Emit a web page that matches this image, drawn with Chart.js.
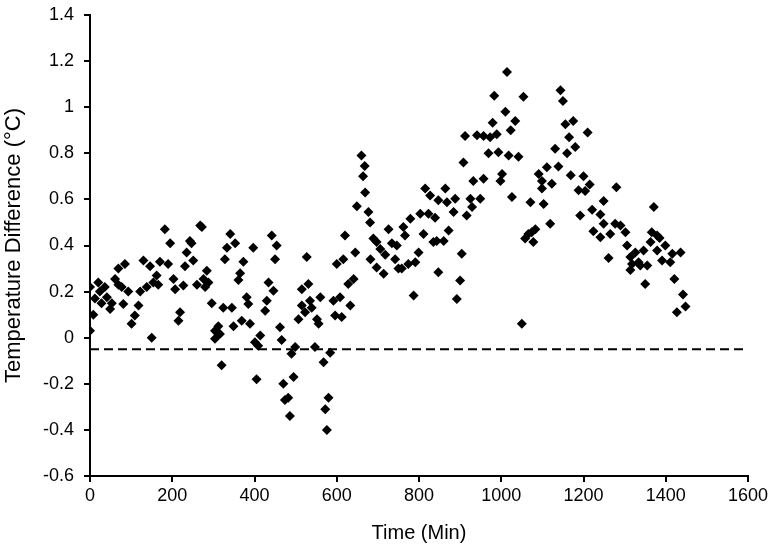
<!DOCTYPE html>
<html>
<head>
<meta charset="utf-8">
<script src="https://cdn.jsdelivr.net/npm/chart.js@4/dist/chart.umd.min.js"></script>
<style>
  html, body { margin: 0; padding: 0; background: #fff; }
  #wrap { width: 777px; height: 549px; }
</style>
</head>
<body>
<div id="wrap"><canvas id="myChart" width="777" height="549"></canvas></div>
<script>
// time in minutes and temperature difference (°C)
let timeMin = [0, 0, 8, 12, 20, 24, 28, 36, 41, 49, 53, 61, 69, 69, 77, 81, 85, 93, 101, 109,
  118, 122, 130, 138, 146, 150, 154, 162, 166, 170, 182, 190, 195, 203, 207, 215, 219, 227, 231, 235,
  243, 247, 251, 260, 268, 272, 276, 280, 284, 288, 296, 304, 304, 312, 312, 316, 320, 324, 328, 333,
  341, 345, 349, 353, 361, 365, 369, 373, 381, 385, 389, 397, 401, 405, 409, 414, 426, 430, 434, 442,
  446, 450, 454, 462, 466, 470, 474, 482, 486, 490, 495, 499, 507, 515, 515, 523, 527, 531, 535, 539,
  547, 552, 556, 560, 568, 572, 576, 580, 584, 592, 596, 600, 608, 612, 616, 620, 628, 633, 641, 645,
  649, 660, 664, 668, 669, 677, 681, 682, 689, 697, 697, 706, 714, 718, 726, 734, 742, 746, 750, 758,
  762, 766, 774, 779, 787, 791, 799, 803, 811, 815, 823, 827, 835, 839, 843, 847, 847, 860, 864, 868,
  872, 884, 888, 892, 900, 904, 908, 912, 916, 925, 929, 932, 941, 949, 957, 957, 969, 973, 979, 983,
  989, 993, 998, 1002, 1010, 1014, 1018, 1023, 1026, 1034, 1042, 1050, 1054, 1058, 1066, 1071, 1074, 1078, 1083, 1091,
  1099, 1099, 1103, 1111, 1119, 1123, 1131, 1139, 1144, 1150, 1156, 1160, 1165, 1169, 1175, 1180, 1188, 1192, 1200, 1204,
  1210, 1215, 1221, 1224, 1241, 1241, 1249, 1249, 1261, 1265, 1277, 1280, 1290, 1302, 1306, 1314, 1314, 1318, 1326, 1334,
  1338, 1346, 1350, 1355, 1363, 1366, 1371, 1379, 1379, 1385, 1391, 1399, 1411, 1416, 1421, 1427, 1436, 1442, 1448];

let tempDiff = [0.22, 0.03, 0.10, 0.17, 0.24, 0.20, 0.15, 0.22, 0.175, 0.125, 0.15, 0.255, 0.23, 0.30, 0.22, 0.146, 0.32, 0.20, 0.06, 0.096,
  0.14, 0.20, 0.335, 0.22, 0.31, 0.0, 0.24, 0.27, 0.23, 0.33, 0.47, 0.32, 0.41, 0.255, 0.21, 0.074, 0.11, 0.226, 0.31, 0.37,
  0.42, 0.41, 0.335, 0.23, 0.487, 0.48, 0.255, 0.22, 0.29, 0.24, 0.15, 0.03, -0.005, 0.05, 0.016, 0.016, -0.12, 0.13, 0.34, 0.39,
  0.45, 0.13, 0.05, 0.41, 0.25, 0.28, 0.074, 0.33, 0.175, 0.146, 0.06, 0.39, -0.02, -0.18, -0.035, 0.01, 0.117, 0.16, 0.24, 0.443,
  0.204, 0.34, 0.40, 0.045, -0.01, -0.2, -0.27, -0.26, -0.34, -0.07, -0.17, -0.04, 0.08, 0.21, 0.14, 0.11, 0.35, 0.233, 0.16, 0.13,
  -0.04, 0.08, 0.06, 0.175, -0.107, -0.31, -0.40, -0.26, -0.065, 0.16, 0.096, 0.32, 0.175, 0.09, 0.34, 0.443, 0.233, 0.14, 0.255, 0.37,
  0.57, 0.79, 0.70, 0.745, 0.63, 0.545, 0.50, 0.34, 0.43, 0.415, 0.305, 0.385, 0.277, 0.36, 0.47, 0.41, 0.34, 0.40, 0.30, 0.30,
  0.48, 0.443, 0.32, 0.516, 0.183, 0.327, 0.37, 0.538, 0.45, 0.647, 0.538, 0.617, 0.415, 0.52, 0.42, 0.596, 0.284, 0.42, 0.647, 0.588,
  0.465, 0.545, 0.603, 0.168, 0.248, 0.364, 0.76, 0.875, 0.53, 0.603, 0.567, 0.68, 0.878, 0.603, 0.875, 0.69, 0.80, 0.87, 0.933, 1.05,
  0.883, 0.805, 0.68, 0.71, 0.98, 1.153, 0.79, 0.90, 0.61, 0.94, 0.785, 0.06, 1.045, 0.43, 0.45, 0.588, 0.458, 0.415, 0.47, 0.71,
  0.68, 0.647, 0.58, 0.74, 0.494, 0.668, 0.82, 0.743, 1.074, 1.027, 0.926, 0.80, 0.87, 0.705, 0.94, 0.827, 0.64, 0.53, 0.70, 0.636,
  0.89, 0.665, 0.555, 0.462, 0.535, 0.436, 0.593, 0.494, 0.346, 0.45, 0.494, 0.653, 0.487, 0.458, 0.40, 0.35, 0.294, 0.32, 0.37, 0.327,
  0.313, 0.378, 0.233, 0.313, 0.415, 0.458, 0.567, 0.443, 0.378, 0.433, 0.335, 0.40, 0.327, 0.364, 0.255, 0.11, 0.37, 0.187, 0.135];

let refLineX = [0, 1600];
let refLineY = [-0.05, -0.05];

let xTicks = [0, 200, 400, 600, 800, 1000, 1200, 1400, 1600];
let yTicks = [-0.6, -0.4, -0.2, 0, 0.2, 0.4, 0.6, 0.8, 1, 1.2, 1.4];

let points = timeMin.map((t, i) => ({ x: t, y: tempDiff[i] }));
let refLine = refLineX.map((t, i) => ({ x: t, y: refLineY[i] }));

Chart.defaults.font.family = "'Liberation Sans', Arial, sans-serif";
Chart.defaults.color = '#000';

// plain number labels: 1600 not 1,600 and 1 not 1.0
let fmt = (v) => String(Number(Number(v).toFixed(1)));

let ctx = document.getElementById("myChart").getContext("2d");

let chart = new Chart(ctx, {
    type: 'scatter',
    data: {
        datasets: [{
            label: 'Temperature Difference',
            data: points,
            pointStyle: 'rectRot',
            pointRadius: 5,
            pointBackgroundColor: '#000',
            pointBorderColor: '#000',
            pointBorderWidth: 0,
            order: 1
        }, {
            type: 'line',
            label: 'ref',
            data: refLine,
            borderColor: '#000',
            borderWidth: 2,
            borderDash: [9, 5],
            pointRadius: 0,
            fill: false,
            order: 2
        }]
    },
    options: {
        responsive: false,
        animation: false,
        layout: { padding: { top: 15, right: 29, left: 0, bottom: 0 } },
        plugins: {
            legend: { display: false },
            tooltip: { enabled: false }
        },
        scales: {
            x: {
                type: 'linear',
                min: 0,
                max: 1600,
                afterBuildTicks: (s) => { s.ticks = xTicks.map(v => ({ value: v })); },
                afterFit: (s) => { s.height = 73; },
                border: { color: '#000', width: 2 },
                grid: { display: true, drawOnChartArea: false, drawTicks: true, tickLength: 6, color: '#000', lineWidth: 2 },
                ticks: { font: { size: 18 }, padding: 3, maxRotation: 0, callback: fmt },
                title: { display: true, text: 'Time (Min)', font: { size: 20 }, padding: { top: 4, bottom: 4 } }
            },
            y: {
                type: 'linear',
                min: -0.6,
                max: 1.4,
                afterBuildTicks: (s) => { s.ticks = yTicks.map(v => ({ value: v })); },
                afterFit: (s) => { s.width = 90; s.paddingTop = 0; s.paddingBottom = 0; },
                border: { color: '#000', width: 2 },
                grid: { display: true, drawOnChartArea: false, drawTicks: true, tickLength: 6, color: '#000', lineWidth: 2 },
                ticks: { font: { size: 18 }, padding: 10, callback: fmt },
                title: { display: true, text: 'Temperature Difference (°C)', font: { size: 22 }, padding: { top: 1, bottom: 4 } }
            }
        }
    }
});
</script>
</body>
</html>
